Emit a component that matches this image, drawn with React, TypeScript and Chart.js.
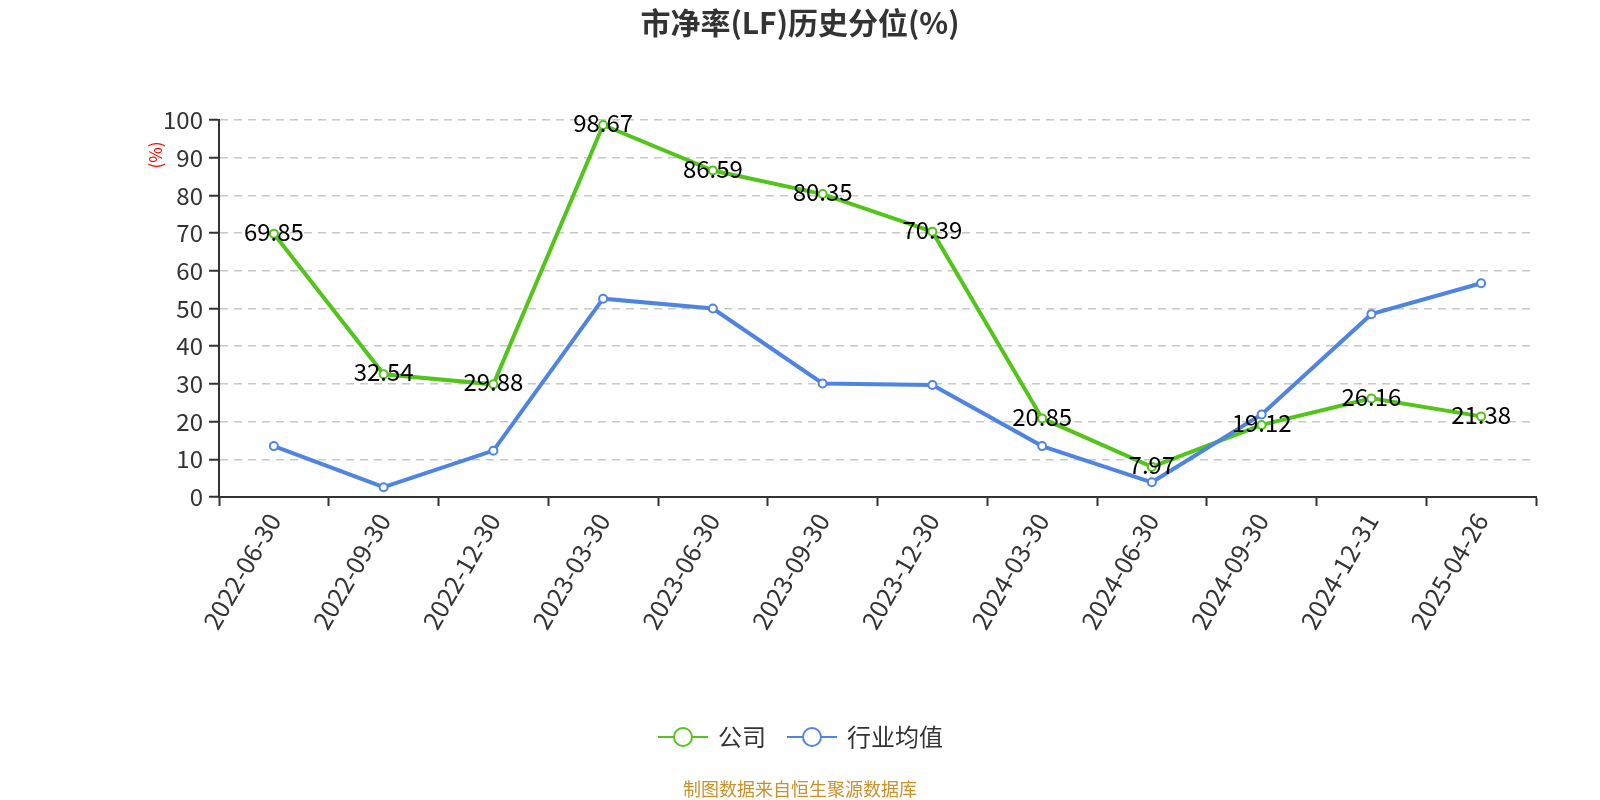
import React, { useEffect, useRef } from "react";
import { Chart, registerables } from "chart.js";

Chart.register(...registerables);

const categories = [
  "2022-06-30", "2022-09-30", "2022-12-30", "2023-03-30", "2023-06-30", "2023-09-30",
  "2023-12-30", "2024-03-30", "2024-06-30", "2024-09-30", "2024-12-31", "2025-04-26",
];
const companyValues = [69.85, 32.54, 29.88, 98.67, 86.59, 80.35, 70.39, 20.85, 7.97, 19.12, 26.16, 21.38];
const industryValues = [13.5, 2.6, 12.3, 52.6, 50.0, 30.1, 29.7, 13.5, 3.9, 21.9, 48.5, 56.7];
const yTicks = [0, 10, 20, 30, 40, 50, 60, 70, 80, 90, 100];

const titleText = "市净率(LF)历史分位(%)";
const yAxisTitle = "(%)";
const seriesNames = ["公司", "行业均值"];
const footerText = "制图数据来自恒生聚源数据库";

const GREEN = "#52c41a";
const BLUE = "#4f84e0";
const FONT = '"Noto Sans CJK SC", "Noto Sans", sans-serif';

const decorPlugin = {
  id: "decor",
  afterDatasetsDraw(chart: any) {
    const ctx = chart.ctx;
    const meta = chart.getDatasetMeta(0);
    ctx.save();
    ctx.font = `24px ${FONT}`;
    ctx.fillStyle = "#000";
    ctx.textAlign = "center";
    ctx.textBaseline = "middle";
    meta.data.forEach((pt: any, i: number) => {
      ctx.fillText(companyValues[i].toFixed(2), pt.x, pt.y - 2);
    });
    ctx.restore();
  },
  afterDraw(chart: any) {
    const ctx = chart.ctx;
    ctx.save();
    // title
    ctx.font = `bold 30px ${FONT}`;
    ctx.fillStyle = "#333";
    ctx.textAlign = "center";
    ctx.textBaseline = "middle";
    ctx.fillText(titleText, 800, 23);
    // y axis title
    ctx.save();
    ctx.translate(156, 155);
    ctx.rotate(-Math.PI / 2);
    ctx.font = `17px ${FONT}`;
    ctx.fillStyle = "red";
    ctx.fillText(yAxisTitle, 0, 0);
    ctx.restore();
    // legend
    const items = [
      { x: 658, color: GREEN, label: seriesNames[0] },
      { x: 787, color: BLUE, label: seriesNames[1] },
    ];
    const ly = 737;
    items.forEach((it) => {
      ctx.strokeStyle = it.color;
      ctx.lineWidth = 2;
      ctx.beginPath();
      ctx.moveTo(it.x, ly);
      ctx.lineTo(it.x + 50, ly);
      ctx.stroke();
      ctx.beginPath();
      ctx.arc(it.x + 25, ly, 9, 0, Math.PI * 2);
      ctx.fillStyle = "#fff";
      ctx.fill();
      ctx.lineWidth = 2;
      ctx.stroke();
      ctx.font = `24px ${FONT}`;
      ctx.fillStyle = "#333";
      ctx.textAlign = "left";
      ctx.fillText(it.label, it.x + 60, ly);
    });
    // footer
    ctx.font = `18px ${FONT}`;
    ctx.fillStyle = "#c8912a";
    ctx.textAlign = "center";
    ctx.fillText(footerText, 800, 789);
    ctx.restore();
  },
};

export default function App() {
  const ref = useRef<HTMLCanvasElement | null>(null);
  useEffect(() => {
    if (!ref.current) return;
    const chart = new Chart(ref.current, {
      type: "line",
      data: {
        labels: categories,
        datasets: [
          {
            label: seriesNames[0],
            data: companyValues,
            borderColor: GREEN,
            backgroundColor: "#fff",
            borderWidth: 4,
            pointRadius: 4,
            pointBorderWidth: 2,
            pointBackgroundColor: "#fff",
            pointBorderColor: GREEN,
            tension: 0,
            order: 1,
          },
          {
            label: seriesNames[1],
            data: industryValues,
            borderColor: BLUE,
            backgroundColor: "#fff",
            borderWidth: 4,
            pointRadius: 4,
            pointBorderWidth: 2,
            pointBackgroundColor: "#fff",
            pointBorderColor: BLUE,
            tension: 0,
            order: 0,
          },
        ],
      },
      options: {
        responsive: false,
        animation: false,
        layout: { padding: { top: 120, right: 64, left: 0, bottom: 0 } },
        plugins: {
          legend: { display: false },
          title: { display: false },
          tooltip: { enabled: false },
        },
        scales: {
          x: {
            type: "category",
            offset: true,
            grid: {
              offset: true,
              drawOnChartArea: false,
              drawTicks: true,
              tickLength: 9,
              tickColor: "#333",
              tickWidth: 2,
            },
            border: { color: "#333", width: 2 },
            ticks: {
              color: "#333",
              font: { size: 25, family: FONT },
              minRotation: 60,
              maxRotation: 60,
              padding: 2,
              autoSkip: false,
            },
            afterFit(scale: any) {
              scale.height = 800 - 497;
            },
          },
          y: {
            min: 0,
            max: 100,
            afterBuildTicks(scale: any) {
              scale.ticks = yTicks.map((v) => ({ value: v }));
            },
            grid: {
              color: "#c8c8c8",
              lineWidth: 1.5,
              tickColor: "#333",
              tickBorderDash: [],
              tickLength: 10,
              tickWidth: 2,
            },
            border: { color: "#333", width: 2, dash: [8, 6] },
            ticks: {
              color: "#333",
              font: { size: 24, family: FONT },
              padding: 6,
            },
            afterFit(scale: any) {
              scale.width = 219;
            },
          },
        },
      },
      plugins: [decorPlugin],
    } as any);
    return () => chart.destroy();
  }, []);
  return (
    <div style={{ position: "fixed", left: 0, top: 0, width: 1600, height: 800, background: "#fff" }}>
      <canvas ref={ref} width={1600} height={800} style={{ width: 1600, height: 800 }} />
    </div>
  );
}
